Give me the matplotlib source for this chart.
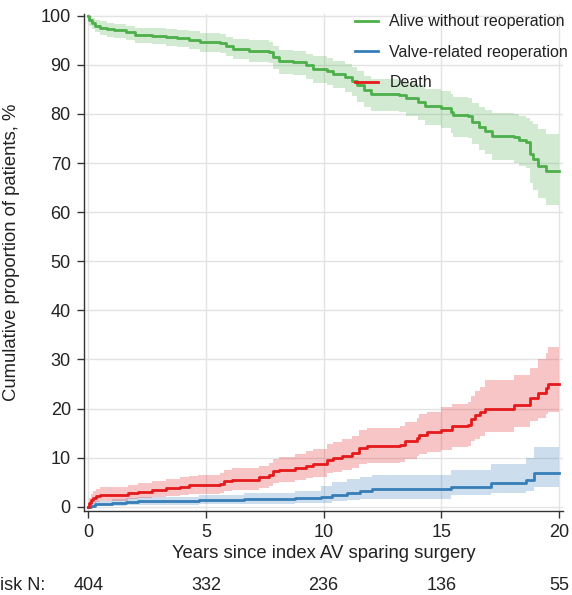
import matplotlib
matplotlib.use("Agg")
import matplotlib.pyplot as plt

plt.rcParams['font.family'] = ['Liberation Sans', 'DejaVu Sans']

# ---- Alive without reoperation ----
alive_t = [0, 0.05, 0.15, 0.3, 0.5, 0.8, 1.1, 1.6, 2.0, 2.7, 3.3, 3.75, 4.3, 4.75, 5.6, 5.85, 6.15,
           6.85, 7.7, 7.85, 8.1, 8.7, 9.25, 9.55, 10.15, 10.4, 10.9, 11.2, 11.4, 11.7, 12.0, 13.2,
           13.5, 14.0, 14.3, 15.0, 15.4, 15.5, 16.15, 16.3, 16.6, 16.85, 17.15, 18.1, 18.3, 18.6,
           18.75, 18.9, 19.1, 19.45, 20.0]
alive_est = [100, 99.2, 98.6, 98.0, 97.6, 97.2, 97.0, 96.6, 96.1, 95.9, 95.6, 95.4, 95.1, 94.7, 94.5,
             93.8, 93.3, 92.9, 92.6, 91.6, 90.7, 90.5, 89.9, 89.2, 88.8, 88.2, 87.5, 86.8, 85.8, 84.8,
             84.1, 83.9, 83.2, 82.5, 81.7, 81.2, 80.4, 79.7, 79.5, 78.4, 77.4, 76.6, 75.6, 75.2, 74.6,
             74.2, 71.8, 70.8, 69.4, 68.3, 68.3]
alive_lo = [100, 98.0, 97.3, 96.6, 96.1, 95.7, 95.4, 95.0, 94.4, 94.2, 93.8, 93.6, 93.2, 92.7, 92.5,
            91.7, 91.1, 90.6, 90.3, 89.1, 88.1, 87.9, 87.2, 86.4, 85.9, 85.2, 84.4, 83.6, 82.5, 81.4,
            80.6, 80.3, 79.5, 78.7, 77.8, 77.1, 76.2, 75.4, 75.1, 73.8, 72.7, 71.8, 70.6, 70.1, 69.4,
            68.9, 66.0, 64.5, 62.8, 61.5, 61.5]
alive_hi = [100, 100, 99.6, 99.2, 98.9, 98.6, 98.4, 98.0, 97.6, 97.4, 97.2, 97.0, 96.8, 96.5, 96.3,
            95.7, 95.3, 95.0, 94.7, 93.8, 93.0, 92.8, 92.3, 91.7, 91.4, 90.8, 90.2, 89.6, 88.7, 87.8,
            87.2, 87.0, 86.4, 85.8, 85.1, 84.7, 84.0, 83.4, 83.2, 82.3, 81.4, 80.8, 80.2, 80.0, 79.5,
            79.2, 78.5, 78.0, 77.0, 75.9, 75.9]

# ---- Valve-related reoperation ----
reop_t = [0, 0.1, 0.3, 1.0, 1.6, 2.1, 4.7, 6.6, 8.8, 9.9, 10.35, 11.0, 11.55, 12.05, 15.4, 17.1,
          18.6, 18.95, 20.0]
reop_est = [0, 0.25, 0.5, 0.75, 0.95, 1.1, 1.3, 1.5, 1.75, 1.9, 2.45, 2.9, 3.3, 3.6, 4.1, 4.8,
            5.5, 6.85, 6.85]
reop_lo = [0, 0, 0.1, 0.2, 0.3, 0.4, 0.5, 0.6, 0.75, 0.8, 1.1, 1.3, 1.5, 1.6, 2.4, 2.8, 3.3, 4.1, 4.1]
reop_hi = [0, 0.7, 1.1, 1.5, 1.8, 2.0, 2.4, 2.8, 3.3, 4.2, 5.0, 5.6, 6.0, 6.5, 7.5, 8.8, 10.0,
           12.2, 12.2]

# ---- Death ----
death_t = [0, 0.03, 0.1, 0.2, 0.35, 0.5, 1.7, 2.1, 2.7, 3.3, 3.9, 4.3, 4.65, 5.6, 5.75, 6.1, 7.25,
           7.7, 7.85, 8.1, 8.8, 9.25, 9.55, 10.15, 10.4, 10.8, 11.2, 11.5, 11.85, 13.25, 13.45,
           13.95, 14.05, 14.4, 15.0, 15.45, 16.15, 16.25, 16.45, 16.65, 16.85, 18.1, 18.75, 19.1,
           19.45, 19.55, 20.0]
death_est = [0, 0.8, 1.3, 1.8, 2.1, 2.4, 2.8, 3.1, 3.5, 3.8, 4.1, 4.35, 4.5, 4.7, 5.2, 5.5, 6.0, 6.5,
             7.2, 7.5, 7.9, 8.4, 8.8, 9.6, 9.9, 10.4, 10.95, 12.0, 12.4, 12.65, 13.3, 14.0, 14.7,
             15.2, 15.7, 16.4, 16.7, 17.8, 18.6, 19.25, 19.9, 20.8, 22.2, 23.2, 24.2, 24.9, 24.9]
death_lo = [0, 0.2, 0.5, 0.8, 1.0, 1.2, 1.5, 1.7, 2.0, 2.2, 2.4, 2.6, 2.7, 2.9, 3.3, 3.5, 3.9, 4.3,
            4.9, 5.1, 5.4, 5.8, 6.1, 6.8, 7.0, 7.4, 7.8, 8.7, 9.0, 9.2, 9.7, 10.3, 10.8, 11.2, 11.5,
            12.1, 12.4, 13.3, 13.9, 14.4, 15.2, 16.3, 17.4, 18.1, 18.9, 19.3, 19.3]
death_hi = [0, 1.8, 2.6, 3.2, 3.6, 4.0, 4.4, 4.8, 5.2, 5.6, 6.0, 6.3, 6.5, 6.8, 7.4, 7.8, 8.4, 9.0,
            9.8, 10.2, 10.7, 11.3, 11.8, 12.8, 13.2, 13.8, 14.4, 15.6, 16.1, 16.4, 17.2, 18.0, 18.8,
            19.4, 20.3, 20.9, 21.3, 22.6, 23.6, 24.4, 25.8, 26.9, 28.3, 30.0, 31.4, 32.6, 32.6]

x_ticks = [0, 5, 10, 15, 20]
y_ticks = [0, 10, 20, 30, 40, 50, 60, 70, 80, 90, 100]
risk_n = [404, 332, 236, 136, 55]

series = [
    ("Alive without reoperation", alive_t, alive_est, alive_lo, alive_hi, "#4daf4a"),
    ("Valve-related reoperation", reop_t, reop_est, reop_lo, reop_hi, "#377eb8"),
    ("Death", death_t, death_est, death_lo, death_hi, "#e41a1c"),
]
for s in series:
    assert len(s[1]) == len(s[2]) == len(s[3]) == len(s[4]), s[0]

W, H = 572, 595
fig = plt.figure(figsize=(W / 100, H / 100), dpi=100)
ax_h = 510.7 - 14
ax_w = 563 - 84
ax = fig.add_axes([84 / W, 1 - 510.7 / H, ax_w / W, ax_h / H])

for label, t, est, lo, hi, col in series:
    ax.fill_between(t, lo, hi, step="post", color=col, alpha=0.25, linewidth=0)
for label, t, est, lo, hi, col in series:
    ax.step(t, est, where="post", color=col, linewidth=2.0, label=label)

ax.set_xlim(-0.18, 20.17)
ax.set_ylim(-0.8, 100.35)
ax.set_xticks(x_ticks)
ax.set_yticks(y_ticks)
ax.grid(True, color="#e3e3e3", linewidth=1.0)
ax.set_axisbelow(True)
for side in ("top", "right"):
    ax.spines[side].set_visible(False)
for side in ("left", "bottom"):
    ax.spines[side].set_color("#333333")
    ax.spines[side].set_linewidth(1.0)
ax.tick_params(axis="both", direction="out", length=5, width=1.0, color="#333333",
               labelsize=13, labelcolor="#222222", pad=4.5)
ax.set_xlabel("Years since index AV sparing surgery", fontsize=13.3, color="#222222", labelpad=3)
ax.set_ylabel("Cumulative proportion of patients, %", fontsize=13.3, color="#222222")
ax.yaxis.set_label_coords((20 - 84) / ax_w, (510.7 - 252.5) / ax_h)

leg = ax.legend(loc="upper right", frameon=False, fontsize=11.5, handlelength=1.45,
                labelspacing=0.96, handletextpad=0.7, borderaxespad=0,
                bbox_to_anchor=(1.024, 1.012))
for txt in leg.get_texts():
    txt.set_color("#222222")

# risk table
trans = ax.get_xaxis_transform()
risk_y = -(585 - 510.7) / ax_h
for xv, n in zip(x_ticks, risk_n):
    ax.text(xv, risk_y, str(n), transform=trans, ha="center", va="center", fontsize=13,
            color="#222222")
fig.text(45 / W, 1 - 585 / H, "At risk N:", ha="right", va="center", fontsize=13,
         color="#222222")

fig.savefig("out.png", dpi=100)
